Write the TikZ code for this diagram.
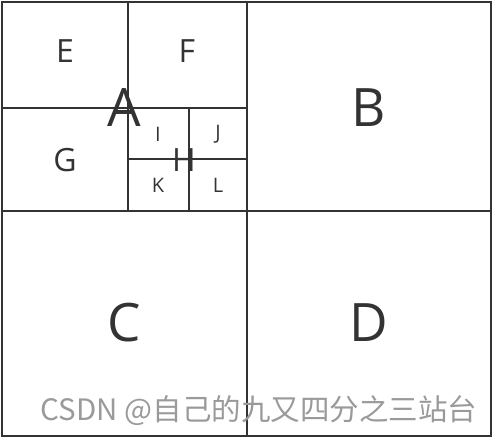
\documentclass[tikz,border=0pt]{standalone}
\usepackage{fontspec}
\setmainfont{Open Sans}
\newfontfamily\cjk{Noto Sans CJK SC}
\usepackage{tikz}
\usetikzlibrary{positioning}
\definecolor{linegray}{HTML}{333333}
\definecolor{markgray}{HTML}{9A9A9A}

\begin{document}
\begin{tikzpicture}[x=1pt,y=-1pt,line width=2pt,
  big/.style={font=\fontsize{53}{53}\selectfont,text=linegray},
  mid/.style={font=\fontsize{32}{32}\selectfont,text=linegray},
  small/.style={font=\fontsize{20}{20}\selectfont,text=linegray}]
            \useasboundingbox (0,0) rectangle (493,438);
            \begin{scope}[draw=linegray]
              % outer frame and quadrants
              \draw (2,2) rectangle (491,436);
              \draw (247,2) -- (247,436);
              \draw (2,211) -- (491,211);
              % quadrant A
              \draw (128,2) -- (128,211);
              \draw (2,108) -- (247,108);
              % quadrant H
              \draw (189,108) -- (189,211);
              \draw (128,159) -- (247,159);
            \end{scope}
            \node[big] (A) at (124,108) {A};
            \node[big] (B) at (369,108) {B};
            \node[big] (C) at (124,323) {C};
            \node[big] (D) at (369,323) {D};
            \node[mid] (E) at (65,51) {E};
            \node[mid] (F) at (187,51) {F};
            \node[mid] (G) at (65,160) {G};
            \node[mid] (H) at (184,160) {H};
            \node[small] (I) at (158,134) {I};
            \node[small] (J) at (218,134) {J};
            \node[small] (K) at (158,185) {K};
            \node[small] (L) at (218,185) {L};
            \node[font=\cjk\fontsize{29.5}{29.5}\selectfont,text=markgray] (mark) at (259,411) {CSDN @自己的九又四分之三站台};
          \end{tikzpicture}
\end{document}
